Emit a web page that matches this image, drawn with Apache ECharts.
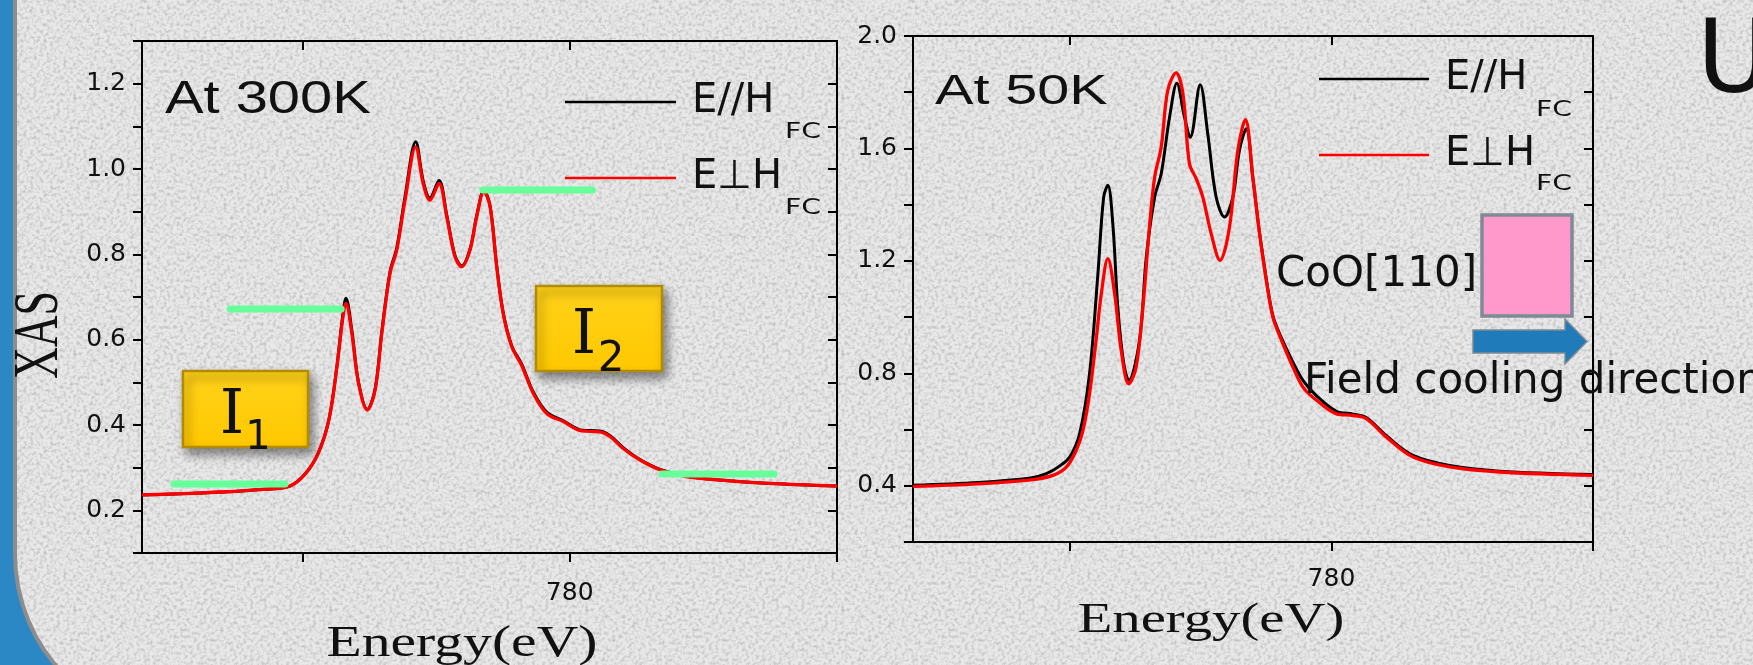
<!DOCTYPE html>
<html>
<head>
<meta charset="utf-8">
<script src="https://cdn.jsdelivr.net/npm/echarts@6/dist/echarts.min.js"></script>
<style>
html,body{margin:0;padding:0;width:1753px;height:665px;overflow:hidden;background:#2b88c4;}
#panel{position:absolute;left:13px;top:-20px;width:1800px;height:749px;box-sizing:border-box;
  border-left:4px solid #8d8d8d;border-bottom:4px solid #8d8d8d;border-bottom-left-radius:175px;
  background-color:#e8e8e8;}
#chart{position:absolute;left:0;top:0;width:1753px;height:665px;}
</style>
</head>
<body>
<div id="panel"></div>
<div id="chart"></div>
<script>
// ---------- data ----------
const energy300 = [764.0, 765.5, 767.0, 768.5, 769.5, 770.1, 770.6, 771.0, 771.3, 771.5, 771.63, 771.85, 772.1, 772.43, 772.72, 772.97, 773.28, 773.53, 773.84, 774.24, 774.52, 774.77, 775.11, 775.4, 775.71, 775.96, 776.27, 776.52, 776.79, 777.02, 777.27, 777.51, 777.83, 778.2, 778.64, 779.14, 779.76, 780.45, 781.13, 781.51, 782.0, 782.63, 783.38, 784.37, 785.62, 787.49, 790.0];
const xasPar300 = [0.236, 0.239, 0.243, 0.249, 0.256, 0.285, 0.335, 0.415, 0.542, 0.652, 0.697, 0.622, 0.5, 0.437, 0.484, 0.618, 0.76, 0.815, 0.935, 1.064, 0.972, 0.932, 0.973, 0.892, 0.797, 0.773, 0.812, 0.89, 0.95, 0.914, 0.773, 0.664, 0.586, 0.543, 0.477, 0.43, 0.41, 0.388, 0.386, 0.375, 0.347, 0.319, 0.296, 0.28, 0.271, 0.263, 0.257];
const xasPerp300 = [0.236, 0.239, 0.243, 0.249, 0.256, 0.285, 0.335, 0.415, 0.54, 0.645, 0.685, 0.615, 0.498, 0.435, 0.482, 0.615, 0.756, 0.81, 0.927, 1.052, 0.966, 0.927, 0.966, 0.888, 0.794, 0.771, 0.81, 0.888, 0.947, 0.912, 0.771, 0.662, 0.584, 0.54, 0.474, 0.427, 0.408, 0.386, 0.384, 0.373, 0.345, 0.318, 0.295, 0.279, 0.271, 0.263, 0.257];

const energy50Par = [764.0, 766.5, 768.5, 769.1, 769.6, 769.99, 770.37, 770.75, 771.07, 771.29, 771.45, 771.64, 771.83, 772.05, 772.25, 772.66, 772.92, 773.24, 773.49, 773.81, 774.09, 774.38, 774.6, 774.98, 775.27, 775.59, 775.91, 776.23, 776.48, 776.74, 777.0, 777.25, 777.51, 777.76, 778.09, 778.47, 778.91, 779.43, 780.19, 780.83, 781.34, 782.1, 783.12, 784.52, 786.43, 790.0];
const xasPar50 = [0.402, 0.412, 0.428, 0.443, 0.47, 0.502, 0.585, 0.799, 1.154, 1.427, 1.469, 1.332, 1.036, 0.84, 0.775, 0.917, 1.213, 1.427, 1.51, 1.711, 1.832, 1.711, 1.64, 1.827, 1.652, 1.427, 1.356, 1.427, 1.593, 1.67, 1.49, 1.3, 1.135, 1.005, 0.925, 0.85, 0.775, 0.72, 0.665, 0.655, 0.642, 0.578, 0.508, 0.472, 0.452, 0.44];
const energy50Perp = [764.0, 766.5, 768.5, 769.35, 769.86, 770.24, 770.5, 770.75, 771.0, 771.2, 771.45, 771.71, 771.96, 772.25, 772.53, 772.79, 773.04, 773.24, 773.49, 773.74, 774.06, 774.32, 774.57, 774.83, 775.08, 775.4, 775.74, 776.1, 776.42, 776.71, 776.99, 777.25, 777.51, 777.76, 778.09, 778.47, 778.91, 779.43, 780.19, 780.83, 781.34, 782.1, 783.12, 784.52, 786.43, 790.0];
const xasPerp50 = [0.398, 0.407, 0.421, 0.437, 0.466, 0.526, 0.597, 0.727, 0.917, 1.083, 1.208, 1.083, 0.882, 0.763, 0.822, 1.036, 1.32, 1.498, 1.605, 1.806, 1.869, 1.795, 1.546, 1.492, 1.427, 1.297, 1.202, 1.32, 1.593, 1.702, 1.5, 1.297, 1.13, 1.0, 0.917, 0.834, 0.751, 0.704, 0.656, 0.65, 0.638, 0.573, 0.502, 0.467, 0.449, 0.437];

// green level markers on the 300K panel: [startEnergy, endEnergy, level]
const levelStart = [765.2, 767.3, 776.75, 783.45];
const levelEnd   = [769.35, 771.45, 780.85, 787.65];
const levelValue = [0.262, 0.672, 0.951, 0.285];

const seriesNames = ['E//H', 'E\u22A5H'];
const subscript = 'FC';
const xTickValues = [770, 780, 790];
const xLabelValues = [780];

// ---------- background texture ----------
const svg = "<svg xmlns='http://www.w3.org/2000/svg' width='256' height='256'><filter id='n' x='0' y='0'><feTurbulence type='fractalNoise' baseFrequency='0.3' numOctaves='2' stitchTiles='stitch'/><feColorMatrix values='0 0 0 0 0.42 0 0 0 0 0.42 0 0 0 0 0.42 1.6 0 0 0 -0.68'/></filter><rect width='256' height='256' filter='url(#n)'/></svg>";
document.getElementById('panel').style.backgroundImage = 'url("data:image/svg+xml,' + encodeURIComponent(svg) + '")';

// ---------- chart ----------
const zip = (xs, ys) => xs.map((x, i) => [x, ys[i]]);
const chart = echarts.init(document.getElementById('chart'), null, {renderer: 'canvas', width: 1753, height: 665});

const lineAx = {show: true, onZero: false, lineStyle: {color: '#000', width: 2}};
const tickStyle = {color: '#000', width: 2};
const labelFont = {fontFamily: 'DejaVu Sans', fontSize: 25, color: '#111'};

function xAxes(grid) {
  return [
    {gridIndex: grid, type: 'value', position: 'bottom', min: 764, max: 790, splitNumber: 2,
     axisLine: lineAx, splitLine: {show: false},
     axisTick: {show: true, inside: false, length: 9, lineStyle: tickStyle, customValues: xTickValues},
     axisLabel: Object.assign({show: true, margin: grid === 0 ? 28 : 25, customValues: xLabelValues,
       formatter: v => (Math.round(v) === 780 ? '780' : '')}, labelFont)},
    {gridIndex: grid, type: 'value', position: 'top', min: 764, max: 790, splitNumber: 2,
     axisLine: lineAx, splitLine: {show: false},
     axisTick: {show: true, inside: true, length: 9, lineStyle: tickStyle, customValues: [770, 780]},
     axisLabel: {show: false}}
  ];
}
function yAxes(grid, min, max, step, labelEvery) {
  return [
    {gridIndex: grid, type: 'value', position: 'left', min: min, max: max, interval: step,
     axisLine: lineAx, splitLine: {show: false},
     axisTick: {show: true, inside: false, length: 9, lineStyle: tickStyle},
     axisLabel: Object.assign({show: true, margin: 16, showMinLabel: true, showMaxLabel: true,
       formatter: v => {
         const k = Math.round(v * 10);
         return (k % labelEvery === 0 && Math.abs(v - min) > 1e-6) ? (k / 10).toFixed(1) : '';
       }}, labelFont)},
    {gridIndex: grid, type: 'value', position: 'right', min: min, max: max, interval: step,
     axisLine: lineAx, splitLine: {show: false},
     axisTick: {show: true, inside: true, length: 9, lineStyle: tickStyle},
     axisLabel: {show: false}}
  ];
}

function legend(left, top, w) {
  return {data: seriesNames, orient: 'vertical', left: left, top: top, itemWidth: w, itemHeight: 2.5,
    itemGap: 26, icon: 'rect', selectedMode: false, padding: 0,
    textStyle: {fontFamily: 'DejaVu Sans', fontSize: 40, color: '#111', lineHeight: 40, padding: [10, 0, 0, 11]}};
}

function curve(name, xi, yi, data, color, width, z) {
  return {name: name, type: 'line', xAxisIndex: xi, yAxisIndex: yi, data: data, smooth: 0.35,
    symbol: 'none', color: color, itemStyle: {color: color}, lineStyle: {color: color, width: width}, z: z};
}

const levelSeries = levelValue.map((v, i) => ({
  type: 'line', xAxisIndex: 0, yAxisIndex: 0, silent: true, symbol: 'none', z: 6,
  data: [[levelStart[i], v], [levelEnd[i], v]],
  lineStyle: {color: '#66ff99', width: 7, cap: 'round'}
}));

function txt(x, y, text, font, opts) {
  const o = Object.assign({type: 'text', x: x, y: y, z: 100, silent: true,
    style: {text: text, font: font, fill: '#111', align: 'left', verticalAlign: 'middle',
            textAlign: 'left', textVerticalAlign: 'middle'}}, opts || {});
  if (opts && opts.align) { o.style.align = opts.align; o.style.textAlign = opts.align; delete o.align; }
  return o;
}
function goldBox(x, y, w, h) {
  return {type: 'rect', z: 90, silent: true, shape: {x: x, y: y, width: w, height: h},
    style: {fill: new echarts.graphic.LinearGradient(0, 0, 0, 1, [{offset: 0, color: '#ffd21a'}, {offset: 1, color: '#ffc800'}]),
            stroke: '#b38a00', lineWidth: 2.5,
            shadowBlur: 10, shadowOffsetX: 4, shadowOffsetY: 6, shadowColor: 'rgba(0,0,0,0.45)'}};
}

const option = {
  backgroundColor: 'rgba(0,0,0,0)',
  animation: false,
  grid: [
    {left: 142, top: 41, width: 695, height: 512},
    {left: 913, top: 36, width: 680, height: 506}
  ],
  xAxis: xAxes(0).concat(xAxes(1)),
  yAxis: yAxes(0, 0.1, 1.3, 0.1, 2).concat(yAxes(1, 0.2, 2.0, 0.2, 4)),
  legend: [legend(565, 77, 111), legend(1319, 54, 110)],
  series: [
    curve(seriesNames[0], 0, 0, zip(energy300, xasPar300), '#000000', 3, 2),
    curve(seriesNames[1], 0, 0, zip(energy300, xasPerp300), '#ff0000', 3.3, 3),
    curve(seriesNames[0], 2, 2, zip(energy50Par, xasPar50), '#000000', 3, 2),
    curve(seriesNames[1], 2, 2, zip(energy50Perp, xasPerp50), '#ff0000', 3.3, 3)
  ].concat(levelSeries),
  graphic: [
    txt(40, 335, 'XAS', '44px "Liberation Serif"', {rotation: Math.PI / 2, scaleY: 1.45, align: 'center'}),
    txt(462, 644, 'Energy(eV)', '44px "Liberation Serif"', {scaleX: 1.31, align: 'center'}),
    txt(1211, 621, 'Energy(eV)', '42px "Liberation Serif"', {scaleX: 1.35, align: 'center'}),
    txt(165, 100, 'At 300K', '47px "Liberation Sans"', {scaleX: 1.23}),
    txt(935, 92, 'At 50K', '42px "Liberation Sans"', {scaleX: 1.37}),
    txt(785, 133, subscript, '21px "DejaVu Sans"', {scaleX: 1.35}),
    txt(785, 209, subscript, '21px "DejaVu Sans"', {scaleX: 1.35}),
    txt(1536, 111, subscript, '21px "DejaVu Sans"', {scaleX: 1.35}),
    txt(1536, 185, subscript, '21px "DejaVu Sans"', {scaleX: 1.35}),
    txt(1276, 275, 'CoO[110]', '42px "DejaVu Sans"'),
    txt(1304, 382, 'Field cooling direction', '42px "DejaVu Sans"'),
    txt(1697, 66, 'U', '101px "DejaVu Sans"'),
    goldBox(183, 371, 125, 76),
    goldBox(536, 286, 126, 85),
    txt(232, 417, 'I', '62px "DejaVu Serif"', {align: 'center'}),
    txt(258, 439, '1', '40px "DejaVu Sans"', {align: 'center'}),
    txt(584, 337, 'I', '62px "DejaVu Serif"', {align: 'center'}),
    txt(611, 360, '2', '42px "DejaVu Sans"', {align: 'center'}),
    {type: 'rect', z: 90, silent: true, shape: {x: 1482, y: 215, width: 90, height: 101},
     style: {fill: '#ff99cc', stroke: '#7f8a93', lineWidth: 3.5}},
    {type: 'polygon', z: 90, silent: true,
     shape: {points: [[1473, 330], [1565, 330], [1565, 319], [1587, 341.5], [1565, 364], [1565, 353], [1473, 353]]},
     style: {fill: '#1f7bb9', stroke: '#7f8a93', lineWidth: 1.5}}
  ]
};
chart.setOption(option);
</script>
</body>
</html>
